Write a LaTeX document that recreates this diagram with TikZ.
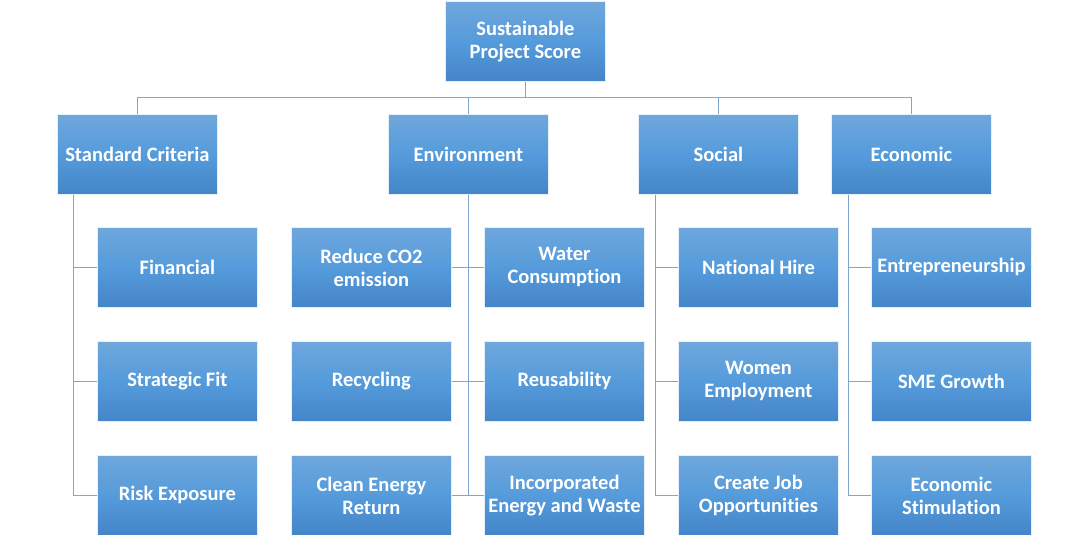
\documentclass[tikz,border=0pt]{standalone}
\usepackage{fontspec}
\setmainfont{Carlito}[Ligatures=NoCommon]
\begin{document}
\begin{tikzpicture}[x=1pt,y=-1pt,
  box/.style={minimum width=160pt,minimum height=80pt,inner sep=0pt,anchor=north west,
    top color=boxtop,bottom color=boxbot,middle color=boxmid,draw=white!85!boxmid,line width=0.8pt,
    text=white,font=\fontsize{20.5}{23}\selectfont\bfseries,align=center},
  link/.style={draw=linec,line width=0.9pt}]
\definecolor{boxtop}{HTML}{6FA7DC}
\definecolor{boxmid}{HTML}{559BDB}
\definecolor{boxbot}{HTML}{4485C8}
\definecolor{linec}{HTML}{7FA6CF}
\useasboundingbox (0,0) rectangle (1089,535);
% root
\node[box] (root) at (445,1) {Sustainable\\Project Score};
% level 1
\node[box] (std) at (57,114) {Standard Criteria};
\node[box] (env) at (388,114) {Environment};
\node[box] (soc) at (638,114) {Social};
\node[box] (eco) at (831,114) {Economic};
% level 2
\node[box] (fin) at (97,227) {Financial};
\node[box] (strat) at (97,341) {Strategic Fit};
\node[box] (risk) at (97,455) {Risk Exposure};
\node[box] (co2) at (291,227) {Reduce CO2\\emission};
\node[box] (recy) at (291,341) {Recycling};
\node[box] (clean) at (291,455) {Clean Energy\\Return};
\node[box] (water) at (484,227) {Water\\Consumption};
\node[box] (reuse) at (484,341) {Reusability};
\node[box] (inc) at (484,455) {Incorporated\\Energy and Waste};
\node[box] (hire) at (678,227) {National Hire};
\node[box] (women) at (678,341) {Women\\Employment};
\node[box] (job) at (678,455) {Create Job\\Opportunities};
\node[box] (entre) at (871,227) {Entrepreneurship};
\node[box] (sme) at (871,341) {SME Growth};
\node[box] (estim) at (871,455) {Economic\\Stimulation};
% connectors from root
\coordinate (bus) at (0,97);
\draw[link] (root.south) -- (root.south |- bus);
\foreach \c in {std,env,soc,eco}{
  \draw[link] (root.south |- bus) -| (\c.north);
}
% standard criteria
\coordinate (sx) at (73,0);
\foreach \c in {fin,strat,risk}{
  \draw[link] (std.south -| sx) |- (\c.west);
}
% environment
\foreach \c in {co2,recy,clean}{
  \draw[link] (env.south) |- (\c.east);
}
\foreach \c in {water,reuse,inc}{
  \draw[link] (env.south) |- (\c.west);
}
% social
\coordinate (ox) at (655,0);
\foreach \c in {hire,women,job}{
  \draw[link] (soc.south -| ox) |- (\c.west);
}
% economic
\coordinate (ex) at (848,0);
\foreach \c in {entre,sme,estim}{
  \draw[link] (eco.south -| ex) |- (\c.west);
}
\end{tikzpicture}
\end{document}
